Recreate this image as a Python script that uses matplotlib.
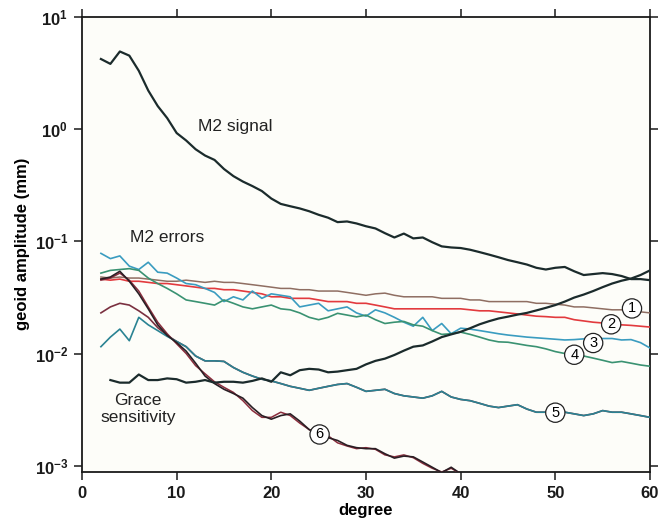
import matplotlib
matplotlib.use("Agg")
import matplotlib.pyplot as plt
from matplotlib.ticker import FixedLocator, FixedFormatter, NullLocator

plt.rcParams['font.family'] = ['Liberation Sans', 'DejaVu Sans']
plt.rcParams['mathtext.fontset'] = 'custom'
plt.rcParams['mathtext.rm'] = 'Liberation Sans:bold'
plt.rcParams['mathtext.bf'] = 'Liberation Sans:bold'

# ---------------- data ----------------
deg_sig = list(range(2, 61))
m2_signal = [4.2, 3.8, 4.9, 4.5, 3.3, 2.2, 1.6, 1.25, 0.92, 0.79, 0.66, 0.58, 0.53,
             0.44, 0.38, 0.34, 0.31, 0.28, 0.24, 0.215, 0.205, 0.196, 0.185, 0.172,
             0.162, 0.148, 0.150, 0.144, 0.136, 0.130, 0.118, 0.108, 0.117, 0.106,
             0.108, 0.098, 0.090, 0.088, 0.087, 0.084, 0.080, 0.076, 0.072, 0.068,
             0.065, 0.062, 0.058, 0.056, 0.058, 0.059, 0.054, 0.050, 0.051, 0.052,
             0.051, 0.049, 0.046, 0.046, 0.045]

deg_grace = list(range(3, 61))
grace = [0.0058, 0.0055, 0.0055, 0.0065, 0.0058, 0.0058, 0.0060, 0.0059, 0.0055,
         0.0056, 0.0058, 0.0055, 0.0056, 0.0056, 0.0055, 0.0057, 0.0060, 0.0056,
         0.0068, 0.0064, 0.0071, 0.0073, 0.0072, 0.0068, 0.0069, 0.0071, 0.0073,
         0.0080, 0.0086, 0.0090, 0.0097, 0.0106, 0.0115, 0.0118, 0.0128, 0.0140,
         0.0148, 0.0156, 0.0168, 0.0182, 0.0194, 0.0205, 0.0213, 0.0222, 0.0230,
         0.0242, 0.0255, 0.0270, 0.0290, 0.0315, 0.0335, 0.0360, 0.0390, 0.0420,
         0.0445, 0.0465, 0.0500, 0.0550]

deg_err = list(range(2, 61))
err1 = [0.048, 0.047, 0.048, 0.047, 0.047, 0.046, 0.045, 0.044, 0.044, 0.045, 0.044,
        0.043, 0.044, 0.043, 0.043, 0.042, 0.041, 0.040, 0.039, 0.038, 0.038, 0.037,
        0.037, 0.036, 0.036, 0.036, 0.035, 0.034, 0.033, 0.034, 0.0345, 0.033, 0.032,
        0.032, 0.032, 0.032, 0.031, 0.031, 0.031, 0.030, 0.030, 0.029, 0.029, 0.029,
        0.029, 0.029, 0.028, 0.028, 0.0275, 0.027, 0.026, 0.026, 0.0255, 0.025,
        0.0245, 0.0245, 0.024, 0.0235, 0.023]
err2 = [0.046, 0.045, 0.046, 0.044, 0.044, 0.043, 0.042, 0.042, 0.041, 0.040, 0.039,
        0.038, 0.038, 0.037, 0.037, 0.036, 0.035, 0.034, 0.032, 0.032, 0.031, 0.031,
        0.031, 0.030, 0.029, 0.029, 0.029, 0.028, 0.028, 0.027, 0.026, 0.025, 0.025,
        0.025, 0.025, 0.025, 0.025, 0.025, 0.025, 0.0245, 0.024, 0.024, 0.0235, 0.023,
        0.0225, 0.022, 0.0215, 0.0213, 0.021, 0.021, 0.020, 0.0195, 0.019, 0.0187,
        0.0183, 0.018, 0.0178, 0.0175, 0.0172]
err3 = [0.078, 0.070, 0.074, 0.060, 0.056, 0.065, 0.053, 0.052, 0.047, 0.042, 0.041,
        0.038, 0.035, 0.029, 0.032, 0.030, 0.036, 0.031, 0.034, 0.033, 0.032, 0.026,
        0.027, 0.028, 0.024, 0.025, 0.026, 0.023, 0.0215, 0.0245, 0.023, 0.021, 0.019,
        0.0175, 0.021, 0.016, 0.0185, 0.015, 0.0168, 0.0165, 0.016, 0.0155, 0.015,
        0.0146, 0.0143, 0.014, 0.0138, 0.0136, 0.0134, 0.0132, 0.0133, 0.0135,
        0.0133, 0.0136, 0.0136, 0.0132, 0.0133, 0.0125, 0.0112]
err4 = [0.052, 0.055, 0.056, 0.057, 0.055, 0.047, 0.042, 0.038, 0.034, 0.030, 0.029,
        0.028, 0.027, 0.030, 0.028, 0.026, 0.025, 0.026, 0.027, 0.025, 0.0245, 0.023,
        0.021, 0.020, 0.021, 0.0228, 0.022, 0.0212, 0.022, 0.020, 0.0185, 0.019,
        0.0193, 0.018, 0.0175, 0.016, 0.0148, 0.015, 0.0155, 0.0148, 0.0140, 0.0132,
        0.0127, 0.0126, 0.0122, 0.0118, 0.0115, 0.0110, 0.0104, 0.0100, 0.0097,
        0.0095, 0.0091, 0.0087, 0.0083, 0.0085, 0.0082, 0.0079, 0.0077]
err5a = [0.023, 0.026, 0.028, 0.027, 0.024, 0.021, 0.017, 0.0145, 0.0128, 0.0115,
         0.0095, 0.0086, 0.0086, 0.0085, 0.0075, 0.0068, 0.0063, 0.0059, 0.0057,
         0.0054, 0.0051, 0.0049, 0.0047, 0.0049, 0.0051, 0.0053, 0.0054, 0.0050,
         0.0046, 0.0047, 0.0048, 0.0044, 0.0042, 0.0041, 0.0040, 0.0042, 0.0046,
         0.0041, 0.0039, 0.0038, 0.0036, 0.0034, 0.0033, 0.0034, 0.0035, 0.0032,
         0.0030, 0.0030, 0.0030, 0.0030, 0.0029, 0.0028, 0.0029, 0.0031, 0.0030,
         0.0030, 0.0029, 0.0028, 0.0027]
err5b = [0.0115, 0.014, 0.0165, 0.013, 0.021, 0.018, 0.016, 0.0142, 0.0128, 0.0115,
         0.0095, 0.0086, 0.0086, 0.0085, 0.0075, 0.0068, 0.0063, 0.0059, 0.0057,
         0.0054, 0.0051, 0.0049, 0.0047, 0.0049, 0.0051, 0.0053, 0.0054, 0.0050,
         0.0046, 0.0047, 0.0048, 0.0044, 0.0042, 0.0041, 0.0040, 0.0042, 0.0046,
         0.0041, 0.0039, 0.0038, 0.0036, 0.0034, 0.0033, 0.0034, 0.0035, 0.0032,
         0.0030, 0.0030, 0.0030, 0.0030, 0.0029, 0.0028, 0.0029, 0.0031, 0.0030,
         0.0030, 0.0029, 0.0028, 0.0027]

deg_6 = list(range(2, 42))
err6a = [0.046, 0.048, 0.054, 0.044, 0.034, 0.025, 0.018, 0.0145, 0.0125, 0.0105,
         0.0082, 0.0063, 0.0054, 0.0048, 0.0044, 0.0040, 0.0033, 0.0028, 0.0026,
         0.0028, 0.0029, 0.0025, 0.0021, 0.0019, 0.00178, 0.00168, 0.00152, 0.00145,
         0.00142, 0.00142, 0.00128, 0.00117, 0.00122, 0.0012, 0.00108, 0.00097,
         0.00087, 0.00097, 0.00085, 0.0008]
err6b = [0.045, 0.047, 0.052, 0.045, 0.036, 0.026, 0.019, 0.015, 0.0122, 0.0100,
         0.0078, 0.0066, 0.0056, 0.0050, 0.0045, 0.0038, 0.0031, 0.0027, 0.0027,
         0.0030, 0.0028, 0.0024, 0.0021, 0.00195, 0.00185, 0.00160, 0.00150, 0.00142,
         0.00145, 0.0014, 0.00125, 0.00120, 0.00125, 0.00118, 0.00105, 0.00095,
         0.00088, 0.00095, 0.00085, 0.0008]

circle_labels = ['1', '2', '3', '4', '5', '6']
circle_x = [58.1, 55.9, 54.0, 52.0, 50.0, 25.1]
circle_y = [0.0252, 0.0182, 0.0124, 0.00975, 0.00297, 0.0019]

yticks = [1e-3, 1e-2, 1e-1, 1e0, 1e1]
ytick_labels = [r'$\mathbf{10^{-3}}$', r'$\mathbf{10^{-2}}$', r'$\mathbf{10^{-1}}$',
                r'$\mathbf{10^{0}}$', r'$\mathbf{10^{1}}$']
xticks = [0, 10, 20, 30, 40, 50, 60]

# ---------------- figure ----------------
fig = plt.figure(figsize=(6.58, 5.32), dpi=100)
bg = '#fdfdf9'
fig.patch.set_facecolor('white')
ax = fig.add_axes([0.1246, 0.1133, 0.8632, 0.8553])
ax.set_facecolor(bg)

dark = '#1b2b2c'
ax.plot(deg_sig, m2_signal, color=dark, lw=1.6, zorder=5)
ax.plot(deg_grace, grace, color=dark, lw=1.6, zorder=5)
ax.plot(deg_err, err1, color='#8f6e62', lw=1.1, zorder=3)
ax.plot(deg_err, err2, color='#e23a3e', lw=1.2, zorder=3)
ax.plot(deg_err, err3, color='#3a9cc0', lw=1.2, zorder=3)
ax.plot(deg_err, err4, color='#3a9272', lw=1.2, zorder=3)
ax.plot(deg_err, err5a, color='#7a3040', lw=1.2, zorder=3)
ax.plot(deg_err, err5b, color='#2a8393', lw=1.2, zorder=4)
ax.plot(deg_6, err6a, color='#2a1e24', lw=1.2, zorder=4)
ax.plot(deg_6, err6b, color='#8a2c3c', lw=1.1, zorder=3)

for lab, cx, cy in zip(circle_labels, circle_x, circle_y):
    ax.text(cx, cy, lab, ha='center', va='center', fontsize=10.5, zorder=10,
            bbox=dict(boxstyle='circle,pad=0.18', fc='white', ec='#222222', lw=0.9))

ax.text(16.2, 1.05, 'M2 signal', ha='center', va='center', fontsize=12.5, color='#222222')
ax.text(9.0, 0.108, 'M2 errors', ha='center', va='center', fontsize=12.5, color='#222222')
ax.text(5.9, 0.0032, 'Grace\nsensitivity', ha='center', va='center', fontsize=12.5,
        color='#222222', multialignment='center', linespacing=1.15)

ax.set_yscale('log')
ax.set_xlim(0, 60)
ax.set_ylim(0.000885, 10)
ax.yaxis.set_major_locator(FixedLocator(yticks))
ax.yaxis.set_major_formatter(FixedFormatter(ytick_labels))
ax.yaxis.set_minor_locator(NullLocator())
ax.set_xticks(xticks)
ax.set_xticklabels([str(v) for v in xticks], fontweight='bold')

ax.tick_params(which='both', direction='out', length=6, width=1.1, labelsize=12,
               top=True, right=True, colors='#1a1a1a', pad=4)
for s in ax.spines.values():
    s.set_linewidth(1.3)
    s.set_color('#1a1a1a')

ax.set_xlabel('degree', fontsize=12, fontweight='bold', labelpad=2)
ax.set_ylabel('geoid amplitude (mm)', fontsize=12, fontweight='bold', labelpad=3)

fig.savefig('out.png', dpi=100, facecolor='white')
